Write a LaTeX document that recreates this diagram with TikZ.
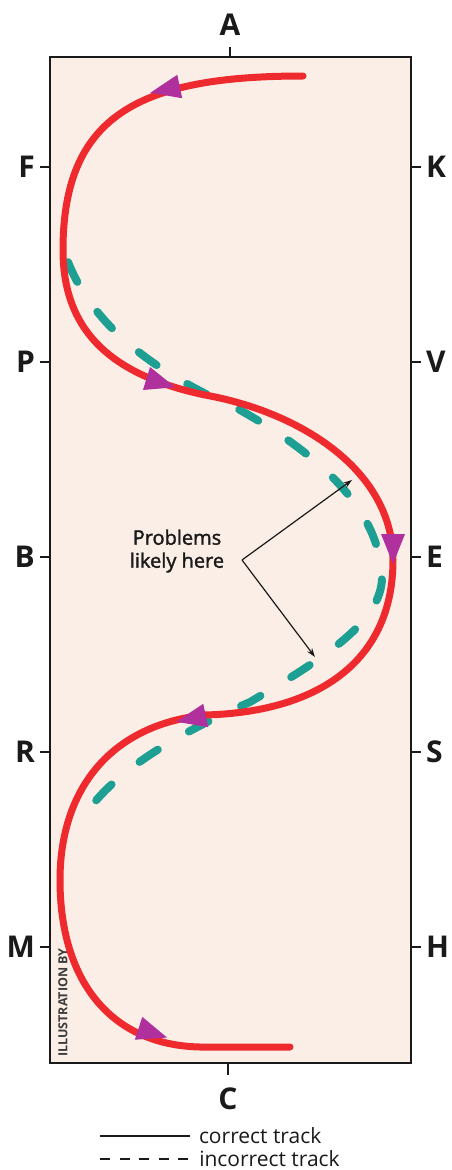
\documentclass[tikz,border=0pt]{standalone}
\usepackage{fontspec}
\setmainfont{Open Sans}
\newfontfamily\heavyish[FakeBold=1.6]{Open Sans}
\usetikzlibrary{arrows.meta,positioning}
\definecolor{paper}{HTML}{FBEEE6}
\definecolor{ink}{HTML}{1A1A1A}
\definecolor{track}{HTML}{EE2A2E}
\definecolor{wrong}{HTML}{1E9F94}
\definecolor{heading}{HTML}{B0309E}

\begin{document}
\begin{tikzpicture}[
  x=1pt, y=-1pt,
  >=Latex,
  arena/.style={draw=ink, line width=2.2pt, fill=paper, minimum width=361pt, minimum height=1006pt, inner sep=0pt},
  tick/.style={draw=ink, line width=2.2pt},
  letter/.style={font=\fontsize{30}{30}\selectfont\bfseries, text=ink, inner sep=0pt},
  correct/.style={draw=track, line width=7pt, line cap=round},
  incorrect/.style={draw=wrong, line width=8pt, line cap=round, dash pattern=on 22pt off 36pt},
  pointer/.style={draw=ink, line width=1.2pt, -{Stealth[length=9pt,width=6pt]}},
  legend/.style={font=\fontsize{21}{21}\selectfont, text=ink, inner sep=0pt},
]
\useasboundingbox (0,0) rectangle (452,1170);

\node[arena] (field) at (230.5,560) {};

% compass letters
\draw[tick] (230,57) -- (230,47) node[letter, above=10pt] (A) {A};
\draw[tick] (228,1063) -- (228,1075) node[letter, below=12pt] (C) {C};
\foreach \lft/\rgt/\yy in {F/K/167, P/V/362, B/E/557, R/S/752, M/H/947} {
  \draw[tick] (50,\yy) -- (40,\yy) node[letter, left=4pt] (\lft) {\lft};
  \draw[tick] (411,\yy) -- (421,\yy) node[letter, right=4pt] (\rgt) {\rgt};
}

\node[rotate=90, anchor=west, font=\fontsize{12.5}{12.5}\selectfont\bfseries, text=ink!85, inner sep=0pt] (credit) at (63,1057) {ILLUSTRATION BY};

% incorrect track
\draw[incorrect] (68,262) .. controls (95,330) and (160,375) .. (240,410)
  .. controls (320,455) and (380,510) .. (382,578)
  .. controls (381,620) and (330,655) .. (250,702)
  .. controls (170,737) and (110,775) .. (83,818);

% correct track
\draw[correct] (303,76) .. controls (140,76) and (63,115) .. (63,250)
  .. controls (63,330) and (110,375) .. (205,395)
  .. controls (300,412) and (393,470) .. (393,560)
  .. controls (393,660) and (320,712) .. (205,715)
  .. controls (110,725) and (60,790) .. (60,880)
  .. controls (60,980) and (110,1045) .. (200,1047) -- (290,1047);

\foreach \px/\py/\ang in {168/89/192, 158/382/-17, 393/546/-90, 194/718/192, 150/1032/-18}
  \fill[heading, shift={(\px,\py)}, rotate=\ang] (18,0) -- (-12,12) -- (-12,-12) -- cycle;

% problem zone
\node[font=\heavyish\fontsize{20}{23}\selectfont, text=ink, align=center, inner sep=0pt] (prob) at (177,551) {Problems\\likely here};
\coordinate (fork) at (242,560);
\coordinate (upper) at (352,480);
\coordinate (lower) at (315,657);
\draw[pointer] (fork) -- (upper);
\draw[pointer] (fork) -- (lower);

% legend
\coordinate (okA) at (100,1136);
\coordinate (okB) at (190,1136);
\coordinate (badA) at (100,1159);
\coordinate (badB) at (190,1159);
\draw[draw=ink, line width=2pt] (okA) -- (okB) node[legend, right=8pt] (ok) {correct track};
\draw[draw=ink, line width=2.5pt, dash pattern=on 10pt off 9.5pt] (badA) -- (badB) node[legend, right=8pt] (bad) {incorrect track};

\end{tikzpicture}
\end{document}
